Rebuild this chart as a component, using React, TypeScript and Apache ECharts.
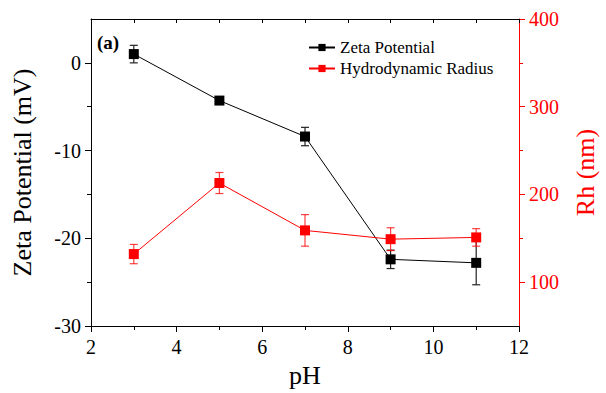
import React, { useEffect, useRef } from "react";
import * as echarts from "echarts";

const pH = [3, 5, 7, 9, 11];
const zeta = [1.0, -4.3, -8.4, -22.4, -22.8];
const zetaErr = [1.0, 0.3, 1.05, 1.05, 2.5];
const rh = [132, 213, 159, 149, 151];
const rhErr = [11, 12, 18, 13, 10];
const zetaTicks = [-30, -20, -10, 0];
const zetaMinor = [-25, -15, -5];
const rhTicks = [100, 200, 300, 400];
const rhMinor = [150, 250, 350];

const FONT = "Liberation Serif";

function errRender(color: string) {
  return (params: any, api: any) => {
    const x = api.value(0);
    const lo = api.value(1);
    const hi = api.value(2);
    const a = api.coord([x, lo]);
    const b = api.coord([x, hi]);
    const w = 4;
    const style = { stroke: color, lineWidth: 1.2 };
    return {
      type: "group",
      children: [
        { type: "line", shape: { x1: a[0], y1: a[1], x2: b[0], y2: b[1] }, style },
        { type: "line", shape: { x1: a[0] - w, y1: a[1], x2: a[0] + w, y2: a[1] }, style },
        { type: "line", shape: { x1: b[0] - w, y1: b[1], x2: b[0] + w, y2: b[1] }, style },
      ],
    };
  };
}

export default function App() {
  const ref = useRef<HTMLDivElement>(null);
  useEffect(() => {
    if (!ref.current) return;
    const chart = echarts.init(ref.current, undefined, { renderer: "svg" });
    const zetaErrData = pH.map((x, i) => [x, zeta[i] - zetaErr[i], zeta[i] + zetaErr[i]]);
    const rhErrData = pH.map((x, i) => [x, rh[i] - rhErr[i], rh[i] + rhErr[i]]);
    const black = "#000";
    const red = "#ff0000";
    const tickLabel = (color: string, extra: any) => ({
      color,
      fontSize: 20,
      fontFamily: "serif",
      fontStyle: "normal",
      fontWeight: "normal",
      ...extra,
    });
    chart.setOption({
      animation: false,
      textStyle: { fontFamily: FONT },
      grid: { left: 91, right: 85, top: 19, bottom: 62, containLabel: false },
      legend: {
        data: ["Zeta Potential", "Hydrodynamic Radius"],
        orient: "vertical",
        left: 308,
        top: 39,
        padding: 0,
        itemWidth: 26,
        itemHeight: 9,
        itemGap: 4,
        textStyle: { fontFamily: "Times New Roman", fontSize: 17, color: "#000", fontStyle: "normal", fontWeight: "normal" },
      },
      graphic: [
        {
          type: "text",
          left: 97,
          top: 33,
          style: { text: "(a)", font: "bold 19px serif", fill: "#000" },
        },
      ],
      xAxis: [
        {
          type: "value",
          position: "bottom",
          min: 2,
          max: 12,
          interval: 2,
          axisLine: { show: true, onZero: false, lineStyle: { color: black, width: 1 } },
          axisTick: { show: true, length: 6, lineStyle: { color: black } },
          minorTick: { show: true, splitNumber: 2, length: 4, lineStyle: { color: black } },
          axisLabel: tickLabel(black, { margin: 11 }),
          splitLine: { show: false },
          name: "pH",
          nameLocation: "middle",
          nameGap: 36,
          nameTextStyle: { color: black, fontSize: 26, fontFamily: FONT },
        },
        {
          type: "value",
          position: "top",
          min: 2,
          max: 12,
          interval: 1,
          axisLine: { show: true, onZero: false, lineStyle: { color: black, width: 1 } },
          axisTick: { show: true, inside: true, length: 4, lineStyle: { color: black } },
          axisLabel: { show: false },
          splitLine: { show: false },
        },
      ],
      yAxis: [
        {
          type: "value",
          position: "left",
          min: -30,
          max: 5,
          interval: 5,
          axisLine: { show: true, onZero: false, lineStyle: { color: black, width: 1 } },
          axisTick: { show: true, length: 6, customValues: zetaTicks, lineStyle: { color: black } },
          axisLabel: tickLabel(black, { margin: 10, customValues: zetaTicks }),
          splitLine: { show: false },
          name: "Zeta Potential (mV)",
          nameLocation: "middle",
          nameGap: 56,
          nameTextStyle: { color: black, fontSize: 26, fontFamily: FONT },
        },
        {
          type: "value",
          position: "left",
          min: -30,
          max: 5,
          interval: 5,
          axisLine: { show: false, onZero: false },
          axisTick: { show: true, length: 4, customValues: zetaMinor, lineStyle: { color: black } },
          axisLabel: { show: false },
          splitLine: { show: false },
        },
        {
          type: "value",
          position: "right",
          min: 50,
          max: 400,
          interval: 50,
          axisLine: { show: true, onZero: false, lineStyle: { color: red, width: 1 } },
          axisTick: { show: true, length: 6, customValues: rhTicks, lineStyle: { color: red } },
          axisLabel: tickLabel(red, { margin: 10, customValues: rhTicks }),
          splitLine: { show: false },
          name: "Rh (nm)",
          nameLocation: "middle",
          nameRotate: 90,
          nameGap: 53,
          nameTextStyle: { color: red, fontSize: 26, fontFamily: FONT },
        },
        {
          type: "value",
          position: "right",
          min: 50,
          max: 400,
          interval: 50,
          axisLine: { show: false, onZero: false },
          axisTick: { show: true, length: 4, customValues: rhMinor, lineStyle: { color: red } },
          axisLabel: { show: false },
          splitLine: { show: false },
        },
      ],
      series: [
        {
          type: "custom",
          name: "zetaErr",
          xAxisIndex: 0,
          yAxisIndex: 0,
          renderItem: errRender("#222"),
          encode: { x: 0, y: [1, 2] },
          data: zetaErrData,
          z: 1,
        },
        {
          type: "custom",
          name: "rhErr",
          xAxisIndex: 0,
          yAxisIndex: 2,
          renderItem: errRender("rgba(255,0,0,0.75)"),
          encode: { x: 0, y: [1, 2] },
          data: rhErrData,
          z: 1,
        },
        {
          type: "line",
          name: "Zeta Potential",
          xAxisIndex: 0,
          yAxisIndex: 0,
          data: pH.map((x, i) => [x, zeta[i]]),
          symbol: "rect",
          symbolSize: 10,
          lineStyle: { color: black, width: 1 },
          itemStyle: { color: black },
          z: 3,
        },
        {
          type: "line",
          name: "Hydrodynamic Radius",
          xAxisIndex: 0,
          yAxisIndex: 2,
          data: pH.map((x, i) => [x, rh[i]]),
          symbol: "rect",
          symbolSize: 10,
          lineStyle: { color: red, width: 1 },
          itemStyle: { color: red },
          z: 4,
        },
      ],
    });
    return () => chart.dispose();
  }, []);
  return (
    <div
      ref={ref}
      style={{ position: "fixed", left: 0, top: 0, width: 606, height: 393, background: "#fff" }}
    />
  );
}
